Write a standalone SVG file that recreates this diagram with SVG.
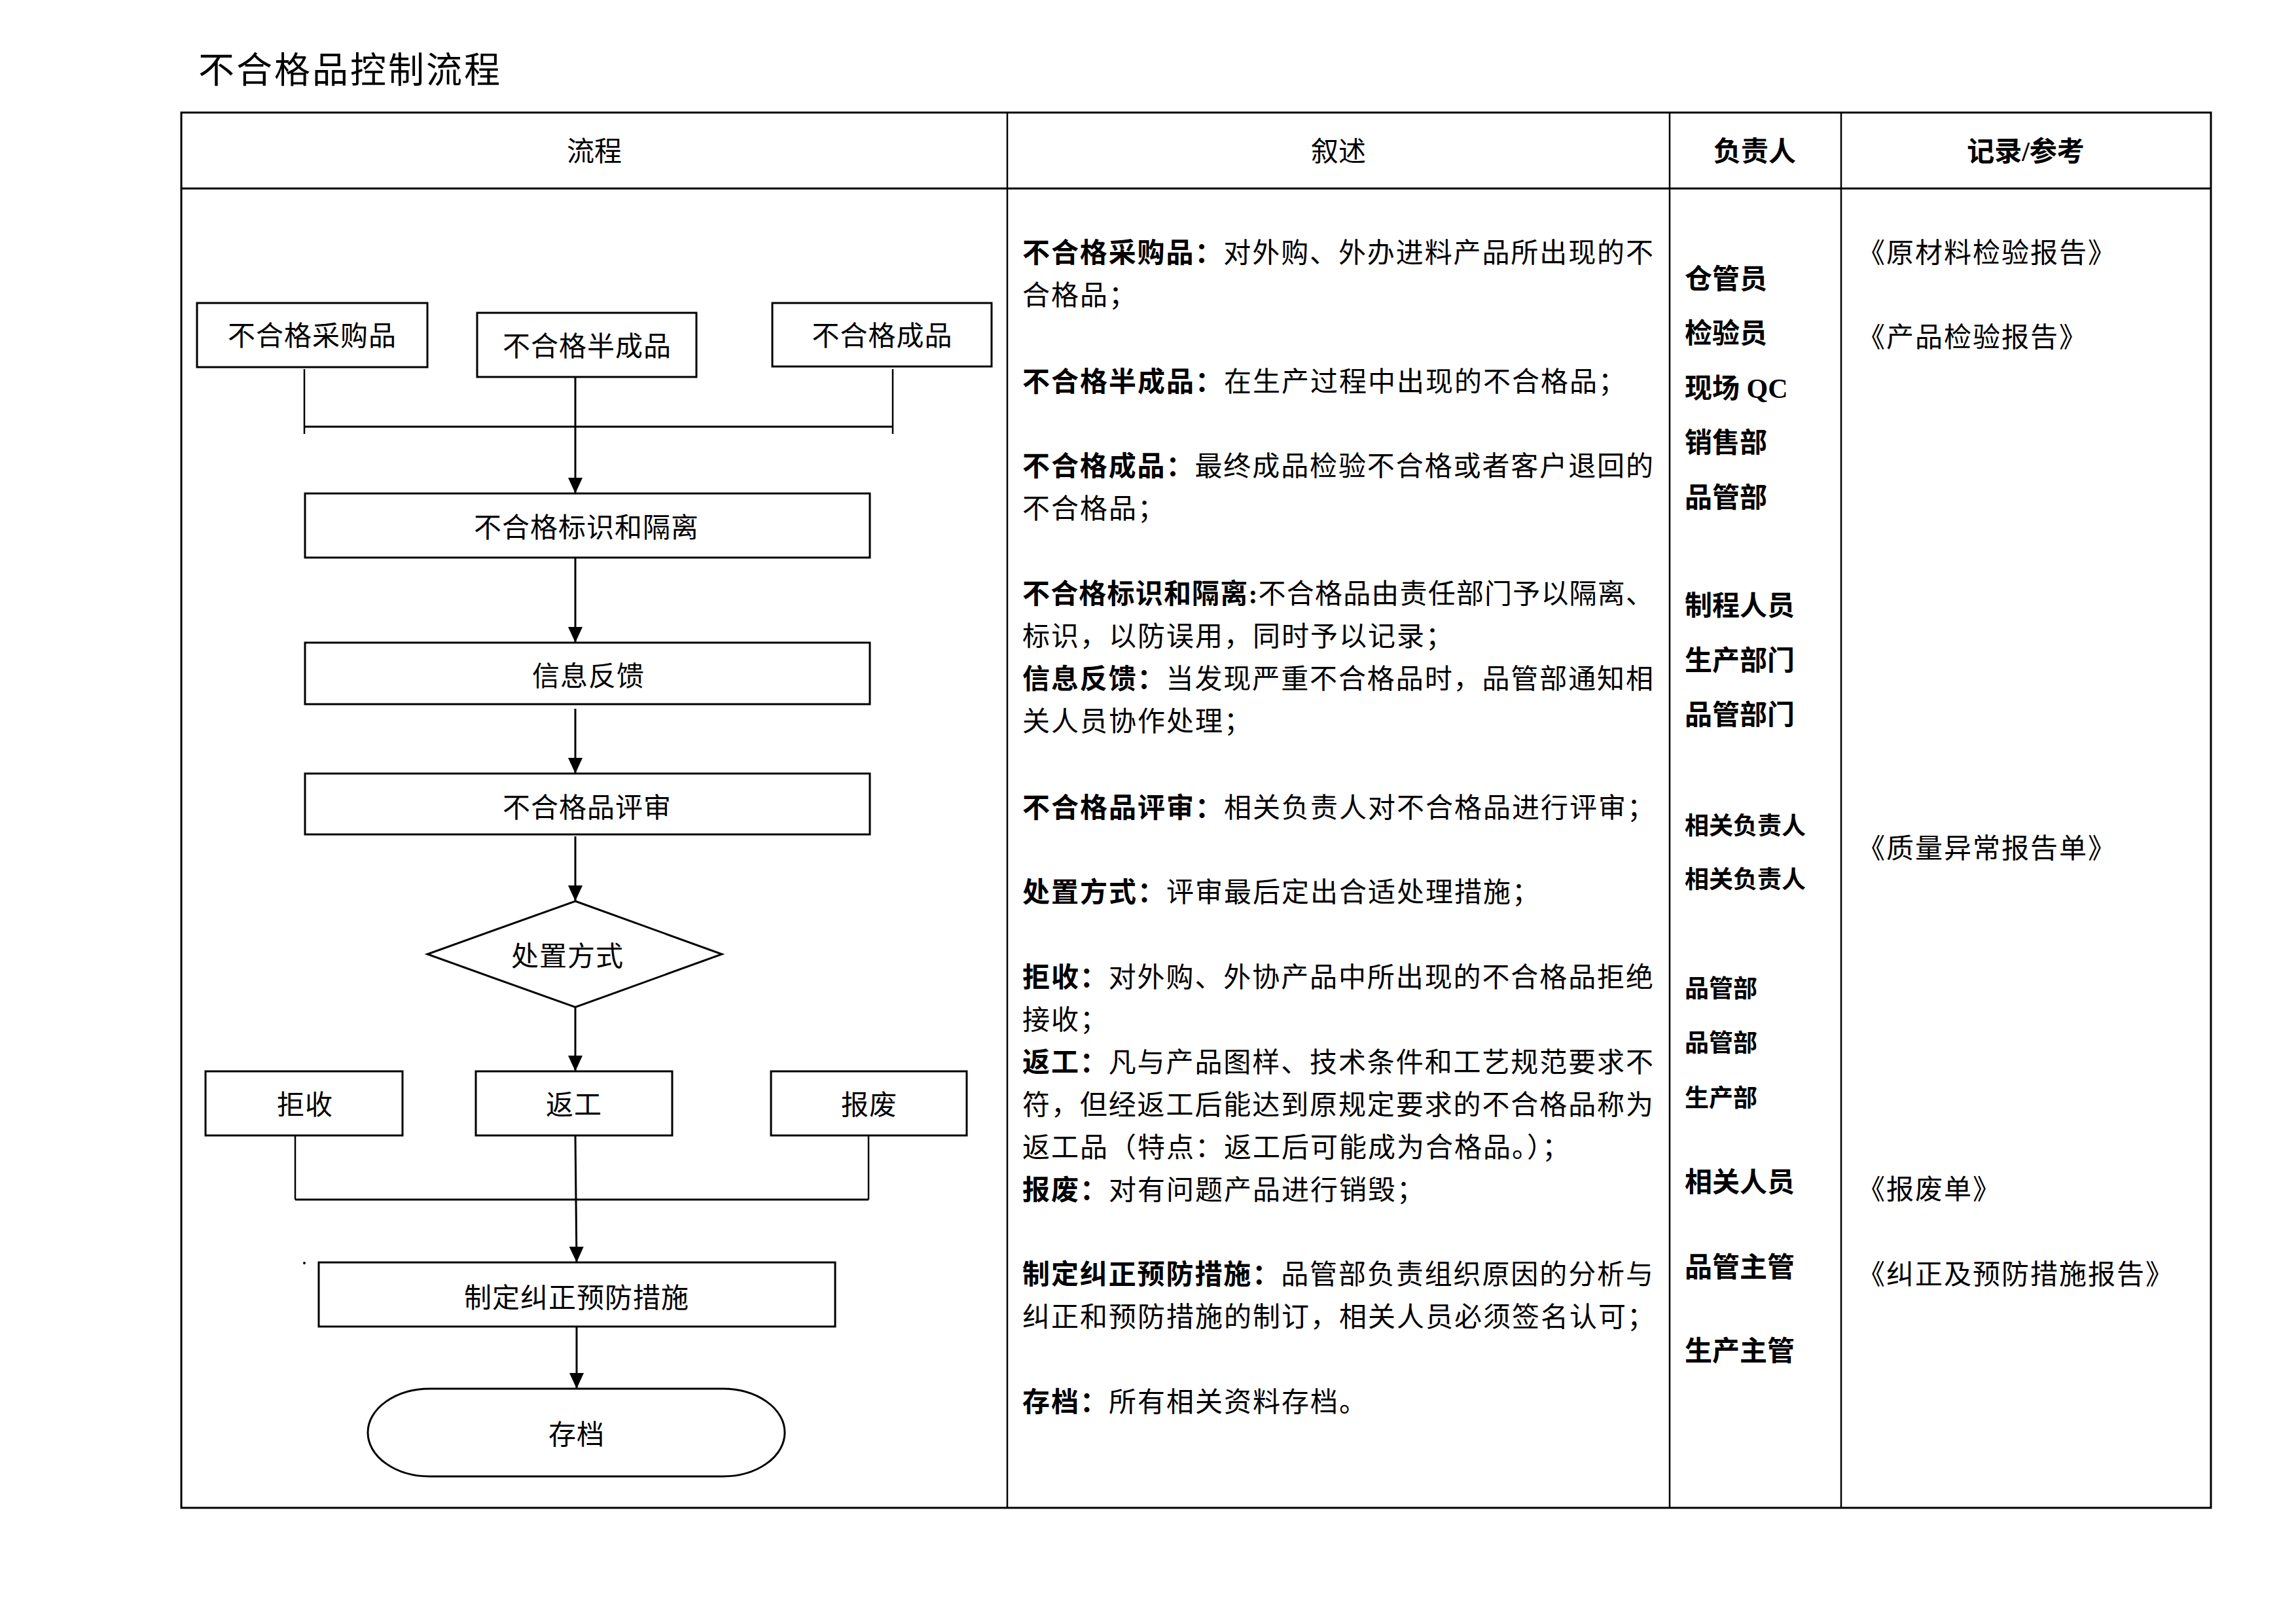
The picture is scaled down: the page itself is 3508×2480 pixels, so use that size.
<svg xmlns="http://www.w3.org/2000/svg" width="3508" height="2480" viewBox="0 0 3508 2480">
<style>
.bg{fill:#fff}
.tb{fill:none;stroke:#000;stroke-width:3}
.tl{stroke:#000;stroke-width:2.5}
.box{fill:#fff;stroke:#000;stroke-width:3}
.ln{fill:none;stroke:#000;stroke-width:2.5}
.ar{fill:none;stroke:#000;stroke-width:3;marker-end:url(#ah)}
.hd{font-family:"Noto Sans CJK SC","Liberation Sans",sans-serif;font-size:42px;fill:#000;text-anchor:middle}
.hdb{font-family:"Liberation Serif","Noto Sans CJK SC",serif;font-size:42px;font-weight:bold;fill:#000;text-anchor:middle}
.nt{font-family:"Liberation Serif","Noto Sans CJK SC",serif;font-size:42px;fill:#000;text-anchor:middle;letter-spacing:1px}
.ds{font-family:"Liberation Serif","Noto Sans CJK SC",serif;font-size:42px;fill:#000;letter-spacing:2px}
.b{font-weight:bold}
.rp{font-family:"Liberation Serif","Noto Sans CJK SC",serif;font-size:42px;font-weight:bold;fill:#000}
.rps{font-family:"Liberation Serif","Noto Sans CJK SC",serif;font-size:37px;font-weight:bold;fill:#000}
.rc{font-family:"Liberation Serif","Noto Sans CJK SC",serif;font-size:42px;fill:#000;letter-spacing:2px}
</style>
<defs>
<marker id="ah" markerUnits="userSpaceOnUse" markerWidth="24" markerHeight="22" refX="24" refY="11" orient="auto">
<path d="M0,0 L24,11 L0,22 z" fill="#000"/>
</marker>
</defs>
<rect class="bg" x="0" y="0" width="3508" height="2480"/>
<text x="303" y="126" style="font-family:'Noto Sans CJK SC','Liberation Sans',sans-serif;font-size:55px;letter-spacing:3px;fill:#000">不合格品控制流程</text>

<g id="table">
<rect class="tb" x="277" y="172" width="3101" height="2132"/>
<line class="tb" x1="277" y1="288" x2="3378" y2="288"/>
<line class="tl" x1="1539" y1="172" x2="1539" y2="2304"/>
<line class="tl" x1="2551" y1="172" x2="2551" y2="2304"/>
<line class="tl" x1="2813" y1="172" x2="2813" y2="2304"/>
<text class="hd" x="908" y="246">流程</text>
<text class="hd" x="2045" y="246">叙述</text>
<text class="hdb" x="2681" y="246">负责人</text>
<text class="hdb" x="3095" y="246">记录/参考</text>
</g>

<g id="connectors">
<line class="ln" x1="465" y1="564" x2="465" y2="663"/>
<line class="ln" x1="1364" y1="564" x2="1364" y2="663"/>
<line class="tb" x1="465" y1="652" x2="1364" y2="652"/>
<line class="ar" x1="879" y1="553" x2="879" y2="754"/>
<line class="ar" x1="879" y1="852" x2="879" y2="982"/>
<line class="ar" x1="879" y1="1083" x2="879" y2="1182"/>
<line class="ar" x1="879" y1="1278" x2="879" y2="1377"/>
<line class="ar" x1="879" y1="1539" x2="879" y2="1637"/>
<line class="ln" x1="451" y1="1735" x2="451" y2="1833"/>
<line class="ln" x1="1327" y1="1735" x2="1327" y2="1833"/>
<line class="tb" x1="451" y1="1833" x2="1327" y2="1833"/>
<line class="ar" x1="879" y1="1735" x2="881" y2="1929"/>
<line class="ar" x1="881" y1="2027" x2="881" y2="2122"/>
<circle cx="465" cy="1930" r="2" fill="#000"/>
</g>

<g id="n-caigou"><rect class="box" x="301" y="463" width="352" height="98"/><text class="nt" x="477" y="528">不合格采购品</text></g>
<g id="n-banchengpin"><rect class="box" x="729" y="478" width="335" height="98"/><text class="nt" x="897" y="544">不合格半成品</text></g>
<g id="n-chengpin"><rect class="box" x="1180" y="463" width="335" height="97"/><text class="nt" x="1348" y="528">不合格成品</text></g>
<g id="n-biaoshi"><rect class="box" x="466" y="754" width="863" height="98"/><text class="nt" x="896" y="821">不合格标识和隔离</text></g>
<g id="n-xinxi"><rect class="box" x="466" y="982" width="863" height="94"/><text class="nt" x="899" y="1048">信息反馈</text></g>
<g id="n-pingshen"><rect class="box" x="466" y="1182" width="863" height="93"/><text class="nt" x="897" y="1249">不合格品评审</text></g>
<g id="n-chuzhi"><polygon class="box" points="879,1377 1103,1458 879,1539 653,1458"/><text class="nt" x="867" y="1476">处置方式</text></g>
<g id="n-jushou"><rect class="box" x="314" y="1637" width="301" height="98"/><text class="nt" x="466" y="1703">拒收</text></g>
<g id="n-fangong"><rect class="box" x="727" y="1637" width="300" height="98"/><text class="nt" x="877" y="1703">返工</text></g>
<g id="n-baofei"><rect class="box" x="1178" y="1637" width="299" height="98"/><text class="nt" x="1328" y="1703">报废</text></g>
<g id="n-jiuzheng"><rect class="box" x="487" y="1929" width="789" height="98"/><text class="nt" x="881" y="1998">制定纠正预防措施</text></g>
<g id="n-cundang"><rect class="box" x="562" y="2122" width="637" height="134" rx="95" ry="67"/><text class="nt" x="881" y="2207">存档</text></g>

<g id="description">
<text class="ds" x="1562" y="401" textLength="966" lengthAdjust="spacing"><tspan class="b">不合格采购品：</tspan>对外购、外办进料产品所出现的不</text>
<text class="ds" x="1562" y="466">合格品；</text>
<text class="ds" x="1562" y="598"><tspan class="b">不合格半成品：</tspan>在生产过程中出现的不合格品；</text>
<text class="ds" x="1562" y="727" textLength="966" lengthAdjust="spacing"><tspan class="b">不合格成品：</tspan>最终成品检验不合格或者客户退回的</text>
<text class="ds" x="1562" y="792">不合格品；</text>
<text class="ds" x="1562" y="922" textLength="966" lengthAdjust="spacing"><tspan class="b">不合格标识和隔离:</tspan>不合格品由责任部门予以隔离、</text>
<text class="ds" x="1562" y="987">标识，以防误用，同时予以记录；</text>
<text class="ds" x="1562" y="1052" textLength="966" lengthAdjust="spacing"><tspan class="b">信息反馈：</tspan>当发现严重不合格品时，品管部通知相</text>
<text class="ds" x="1562" y="1117">关人员协作处理；</text>
<text class="ds" x="1562" y="1249"><tspan class="b">不合格品评审：</tspan>相关负责人对不合格品进行评审；</text>
<text class="ds" x="1562" y="1378"><tspan class="b">处置方式：</tspan>评审最后定出合适处理措施；</text>
<text class="ds" x="1562" y="1508" textLength="966" lengthAdjust="spacing"><tspan class="b">拒收：</tspan>对外购、外协产品中所出现的不合格品拒绝</text>
<text class="ds" x="1562" y="1573">接收；</text>
<text class="ds" x="1562" y="1638" textLength="966" lengthAdjust="spacing"><tspan class="b">返工：</tspan>凡与产品图样、技术条件和工艺规范要求不</text>
<text class="ds" x="1562" y="1703" textLength="966" lengthAdjust="spacing">符，但经返工后能达到原规定要求的不合格品称为</text>
<text class="ds" x="1562" y="1768">返工品（特点：返工后可能成为合格品。）；</text>
<text class="ds" x="1562" y="1833"><tspan class="b">报废：</tspan>对有问题产品进行销毁；</text>
<text class="ds" x="1562" y="1962" textLength="966" lengthAdjust="spacing"><tspan class="b">制定纠正预防措施：</tspan>品管部负责组织原因的分析与</text>
<text class="ds" x="1562" y="2027">纠正和预防措施的制订，相关人员必须签名认可；</text>
<text class="ds" x="1562" y="2157"><tspan class="b">存档：</tspan>所有相关资料存档。</text>
</g>

<g id="responsible">
<text class="rp" x="2574" y="441">仓管员</text>
<text class="rp" x="2574" y="524">检验员</text>
<text class="rp" x="2574" y="608">现场 QC</text>
<text class="rp" x="2574" y="691">销售部</text>
<text class="rp" x="2574" y="775">品管部</text>
<text class="rp" x="2574" y="940">制程人员</text>
<text class="rp" x="2574" y="1024">生产部门</text>
<text class="rp" x="2574" y="1107">品管部门</text>
<text class="rps" x="2574" y="1275">相关负责人</text>
<text class="rps" x="2574" y="1357">相关负责人</text>
<text class="rps" x="2574" y="1524">品管部</text>
<text class="rps" x="2574" y="1607">品管部</text>
<text class="rps" x="2574" y="1691">生产部</text>
<text class="rp" x="2574" y="1821">相关人员</text>
<text class="rp" x="2574" y="1951">品管主管</text>
<text class="rp" x="2574" y="2079">生产主管</text>
</g>

<g id="records">
<text class="rc" x="2838" y="401">《原材料检验报告》</text>
<text class="rc" x="2838" y="530">《产品检验报告》</text>
<text class="rc" x="2838" y="1311">《质量异常报告单》</text>
<text class="rc" x="2838" y="1832">《报废单》</text>
<text class="rc" x="2838" y="1962">《纠正及预防措施报告》</text>
</g>
</svg>
